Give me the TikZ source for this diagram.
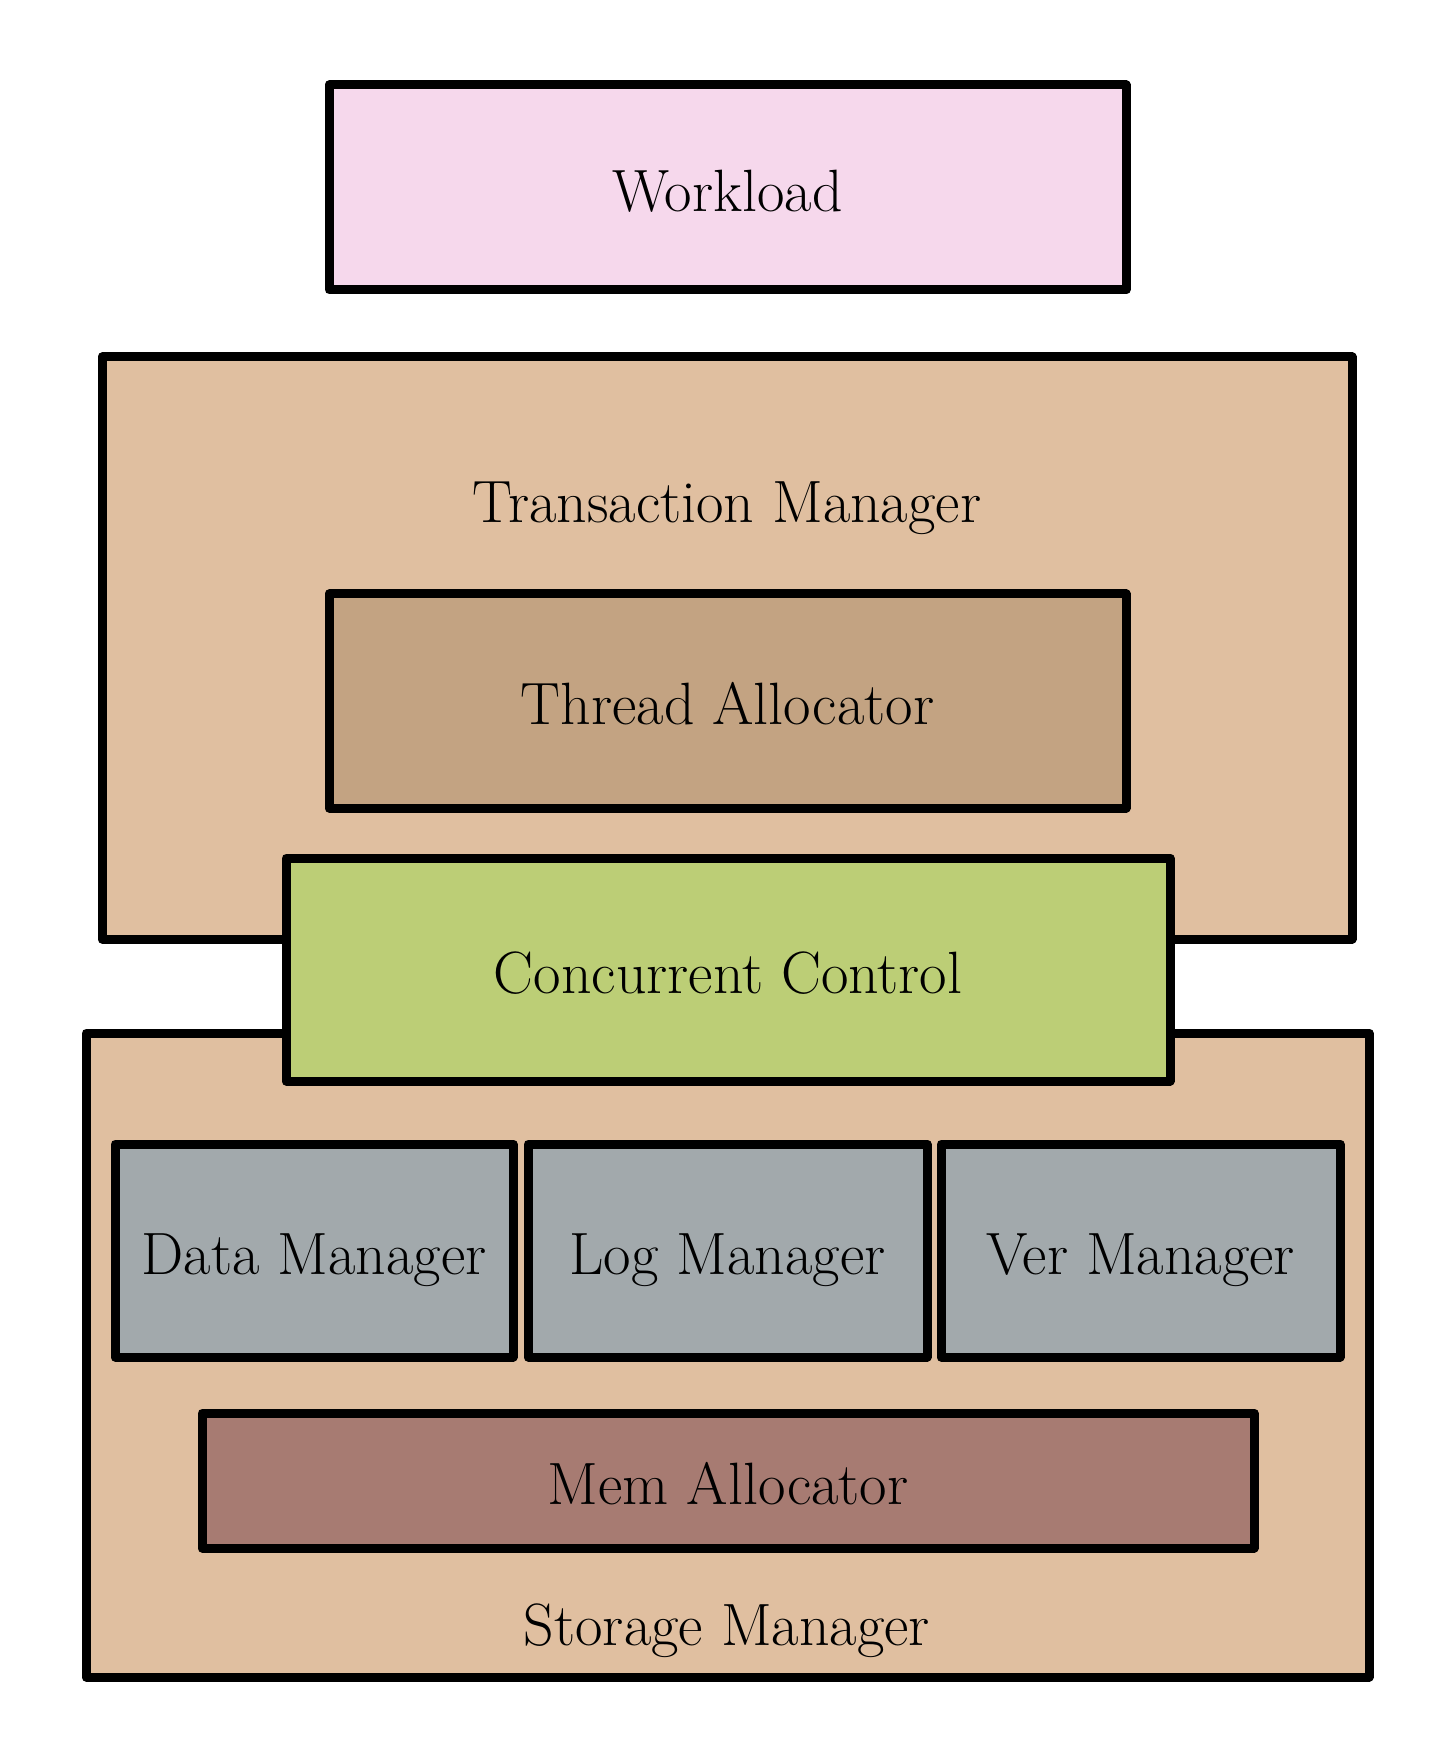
\documentclass[tikz,border=0pt]{standalone}
\usepackage{tikz}
\definecolor{workpink}{RGB}{246,216,236}
\definecolor{mgrtan}{RGB}{224,191,160}
\definecolor{threadtan}{RGB}{195,163,130}
\definecolor{ccgreen}{RGB}{188,206,118}
\definecolor{mgrgray}{RGB}{162,169,172}
\definecolor{memred}{RGB}{167,123,114}
\begin{document}
\begin{tikzpicture}[line cap=round,line join=round,
    layer/.style={draw=black,line width=0.09cm,rectangle,inner sep=0pt,
      text height=13.5pt,text depth=0pt,
      font=\fontsize{16.99}{20}\selectfont},
    lbl/.style={inner sep=0pt,font=\fontsize{16.99}{20}\selectfont}]
        \useasboundingbox (0,0) rectangle (14.54,-17.62);
        % outer managers
        \node[layer,fill=mgrtan,minimum width=12.50cm,minimum height=5.82cm] (tm) at (7.27,-6.48) {};
        \node[lbl] (tmlabel) at (7.27,-5.08) {Transaction Manager};
        \node[layer,fill=workpink,minimum width=7.97cm,minimum height=2.05cm] (work) at (7.275,-1.875) {Workload};
        \node[layer,fill=threadtan,minimum width=7.97cm,minimum height=2.14cm] (thread) at (7.275,-7.01) {Thread Allocator};
        \node[layer,fill=mgrtan,minimum width=12.83cm,minimum height=6.44cm] (sm) at (7.275,-13.55) {};
        \node[lbl] (smlabel) at (7.27,-16.31) {Storage Manager};
        \node[layer,fill=ccgreen,minimum width=8.84cm,minimum height=2.23cm] (cc) at (7.28,-9.695) {Concurrent Control};
        % storage parts
        \node[layer,fill=mgrgray,minimum width=3.98cm,minimum height=2.13cm] (data) at (3.14,-12.505) {Data Manager};
        \node[layer,fill=mgrgray,minimum width=3.99cm,minimum height=2.13cm] (log) at (7.275,-12.505) {Log Manager};
        \node[layer,fill=mgrgray,minimum width=3.99cm,minimum height=2.13cm] (ver) at (11.405,-12.505) {Ver Manager};
        \node[layer,fill=memred,minimum width=10.52cm,minimum height=1.35cm] (mem) at (7.28,-14.805) {Mem Allocator};
      \end{tikzpicture}
\end{document}
